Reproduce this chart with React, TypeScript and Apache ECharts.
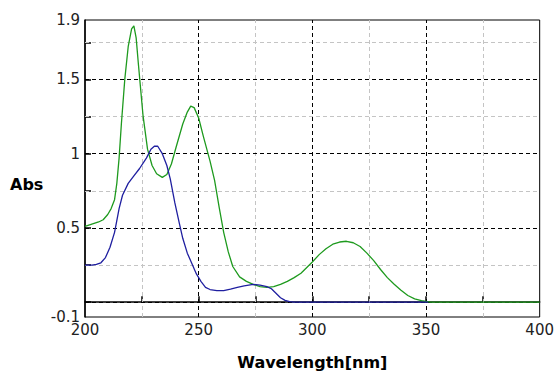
import React, { useEffect, useRef } from "react";
import * as echarts from "echarts";

const greenWl = [200, 202, 204, 206, 208, 210, 211.5, 213, 214, 215, 216, 217.5, 219, 220.5, 221.5, 222.5, 223.5, 225.5, 227.5, 229.5, 231.5, 234, 236, 238, 240, 243, 245, 246.5, 248, 250, 252, 255, 257, 259, 261, 263, 265, 268, 271, 274, 277, 280, 283, 286, 289, 292, 295, 298, 300, 303, 306, 309, 312, 315, 318, 321, 324, 327, 330, 333, 336, 339, 342, 345, 348, 350, 352, 360, 380, 400];
const greenAbs = [0.51, 0.52, 0.53, 0.54, 0.555, 0.59, 0.63, 0.69, 0.8, 0.97, 1.2, 1.5, 1.72, 1.84, 1.86, 1.78, 1.6, 1.26, 1.03, 0.92, 0.865, 0.84, 0.86, 0.93, 1.04, 1.2, 1.28, 1.32, 1.31, 1.24, 1.12, 0.95, 0.82, 0.64, 0.47, 0.34, 0.24, 0.17, 0.14, 0.12, 0.105, 0.1, 0.105, 0.12, 0.14, 0.165, 0.195, 0.24, 0.27, 0.32, 0.36, 0.39, 0.405, 0.41, 0.4, 0.375, 0.33, 0.28, 0.22, 0.165, 0.12, 0.08, 0.045, 0.022, 0.01, 0.005, 0, 0, 0, 0];

const blueWl = [200, 203, 205, 207, 209, 211, 213, 215, 216.5, 219, 221.5, 224, 227, 229, 230.5, 232, 234, 236, 237.5, 239.5, 241.5, 243, 245, 247, 249, 251, 253, 255, 258, 261, 264, 267, 270, 274, 277, 280, 282, 284, 286, 288, 290, 292, 320, 351];
const blueAbs = [0.25, 0.25, 0.255, 0.265, 0.3, 0.37, 0.47, 0.63, 0.72, 0.8, 0.85, 0.9, 0.97, 1.03, 1.05, 1.05, 1.0, 0.92, 0.83, 0.67, 0.53, 0.43, 0.33, 0.26, 0.19, 0.14, 0.1, 0.085, 0.078, 0.077, 0.088, 0.1, 0.11, 0.12, 0.115, 0.105, 0.09, 0.06, 0.03, 0.012, 0.003, 0, 0, 0];

const yLabels = [-0.1, 0.5, 1, 1.5, 1.9];
const yTicks = [0, 0.25, 0.5, 0.75, 1, 1.25, 1.5, 1.75];
const xTicks = [225, 250, 275, 300, 325, 350, 375];
const majorY = [0, 0.5, 1, 1.5];
const minorY = [0.25, 0.75, 1.25, 1.75];
const majorX = [250, 300, 350];
const minorX = [225, 275, 325, 375];

export default function App() {
  const ref = useRef<HTMLDivElement>(null);
  useEffect(() => {
    if (!ref.current) return;
    const chart = echarts.init(ref.current, null, { renderer: "svg" });
    const dash = [4, 3];
    const majorStyle = { color: "#000", width: 1, type: dash };
    const minorStyle = { color: "#c4c4c4", width: 1, type: dash };
    const gridLines = [
      ...minorY.map((v) => ({ yAxis: v, lineStyle: minorStyle })),
      ...minorX.map((v) => ({ xAxis: v, lineStyle: minorStyle })),
      ...majorY.map((v) => ({ yAxis: v, lineStyle: majorStyle })),
      ...majorX.map((v) => ({ xAxis: v, lineStyle: majorStyle })),
    ];
    const font = "DejaVu Sans";
    chart.setOption({
      animation: false,
      backgroundColor: "#fff",
      grid: {
        left: 85,
        top: 20,
        right: 16,
        bottom: 57,
        show: true,
        borderColor: "#000",
        borderWidth: 1,
        backgroundColor: "transparent",
      },
      xAxis: {
        type: "value",
        min: 200,
        max: 400,
        interval: 50,
        name: "Wavelength[nm]",
        nameLocation: "middle",
        nameGap: 37,
        nameTextStyle: { fontFamily: font, fontWeight: "bold", fontSize: 16, color: "#000" },
        axisLine: { show: true, lineStyle: { color: "#000", width: 1.5 } },
        axisTick: { show: true, inside: true, length: 6, customValues: xTicks, lineStyle: { color: "#000", width: 1.5 } },
        axisLabel: { fontFamily: font, fontSize: 15, color: "#222", margin: 5 },
        splitLine: { show: false },
      },
      yAxis: {
        type: "value",
        min: -0.1,
        max: 1.9,
        axisLine: { show: true, lineStyle: { color: "#000", width: 1.5 } },
        axisTick: { show: true, inside: true, length: 6, customValues: yTicks, lineStyle: { color: "#000", width: 1.5 } },
        axisLabel: { fontFamily: font, fontSize: 15, color: "#222", margin: 5, customValues: yLabels },
        splitLine: { show: false },
      },
      graphic: [
        {
          type: "text",
          left: 10,
          top: 176,
          style: { text: "Abs", fontFamily: font, fontWeight: "bold", fontSize: 16, fill: "#000" },
        },
      ],
      series: [
        {
          type: "line",
          name: "green",
          data: greenWl.map((w, i) => [w, greenAbs[i]]),
          showSymbol: false,
          symbol: "none",
          lineStyle: { color: "#1e9a1e", width: 1.3 },
          z: 3,
          markLine: {
            silent: true,
            symbol: ["none", "none"],
            label: { show: false },
            z: 1,
            data: gridLines,
          },
        },
        {
          type: "line",
          name: "blue",
          data: blueWl.map((w, i) => [w, blueAbs[i]]),
          showSymbol: false,
          symbol: "none",
          lineStyle: { color: "#1f1fa0", width: 1.3 },
          z: 4,
        },
      ],
    });
    return () => chart.dispose();
  }, []);
  return <div ref={ref} style={{ position: "absolute", left: 0, top: 0, width: 557, height: 375 }} />;
}
